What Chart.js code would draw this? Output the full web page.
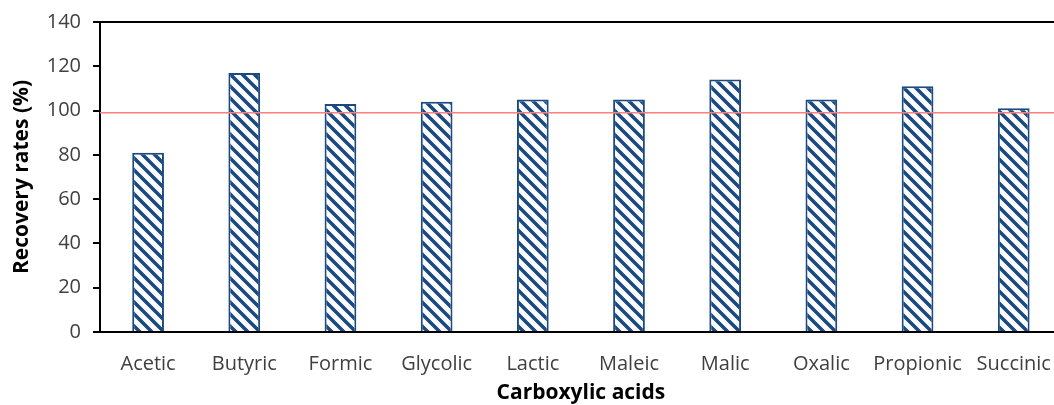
<!DOCTYPE html>
<html>
<head>
<meta charset="utf-8">
<script src="https://cdn.jsdelivr.net/npm/chart.js@4"></script>
<style>
  html, body { margin: 0; padding: 0; background: #fff; overflow: hidden; }
  #wrap { width: 1071px; height: 405px; }
</style>
</head>
<body>
<div id="wrap"><canvas id="chart"></canvas></div>
<script>
const categories = ['Acetic', 'Butyric', 'Formic', 'Glycolic', 'Lactic', 'Maleic', 'Malic', 'Oxalic', 'Propionic', 'Succinic'];
const recoveryRates = [81, 117, 103, 104, 105, 105, 114, 105, 111, 101];
const yTicks = [0, 20, 40, 60, 80, 100, 120, 140];
const referenceLevel = 99;

const barBlue = '#1b4a80';
const font = 'Open Sans';

// diagonal hatch fill like the Excel pattern
function makeHatch() {
    const size = 12;
    const c = document.createElement('canvas');
    c.width = size; c.height = size;
    const g = c.getContext('2d');
    g.fillStyle = '#fff';
    g.fillRect(0, 0, size, size);
    g.strokeStyle = barBlue;
    g.lineWidth = 3.6;
    g.beginPath();
    for (let k = -1; k <= 1; k++) {
        g.moveTo(k * size - 2, -2);
        g.lineTo(k * size + size + 2, size + 2);
    }
    g.stroke();
    return g.createPattern(c, 'repeat');
}

const extraLines = {
    id: 'extraLines',
    afterDatasetsDraw(chart) {
        const { ctx, chartArea, scales } = chart;
        const y = scales.y.getPixelForValue(referenceLevel);
        ctx.save();
        ctx.strokeStyle = '#ff7f7f';
        ctx.lineWidth = 1.5;
        ctx.beginPath();
        ctx.moveTo(chartArea.left, y);
        ctx.lineTo(chartArea.right, y);
        ctx.stroke();
        // top frame line
        ctx.strokeStyle = '#000';
        ctx.lineWidth = 2;
        ctx.beginPath();
        ctx.moveTo(chartArea.left, chartArea.top);
        ctx.lineTo(chartArea.right, chartArea.top);
        ctx.stroke();
        ctx.restore();
    }
};

new Chart(document.getElementById('chart'), {
    type: 'bar',
    data: {
        labels: categories,
        datasets: [{
            data: recoveryRates,
            backgroundColor: makeHatch(),
            borderColor: barBlue,
            borderWidth: 2,
            categoryPercentage: 1,
            barPercentage: 0.33
        }]
    },
    options: {
        responsive: true,
        maintainAspectRatio: false,
        animation: false,
        layout: { padding: { top: 22, right: 2, left: 0, bottom: 0 } },
        plugins: { legend: { display: false }, tooltip: { enabled: false } },
        scales: {
            x: {
                grid: { display: true, drawOnChartArea: false, drawTicks: false, color: '#000', lineWidth: 2 },
                border: { display: true, color: '#000', width: 2 },
                ticks: { color: '#404040', padding: 20, font: { family: font, size: 20 }, maxRotation: 0, autoSkip: false },
                title: { display: true, text: 'Carboxylic acids', color: '#000', padding: { top: 0, bottom: 1 }, font: { family: font, size: 21, weight: 'bold', lineHeight: 1 } },
                afterFit(scale) { scale.height = 73; }
            },
            y: {
                min: 0,
                max: 140,
                afterBuildTicks(scale) { scale.ticks = yTicks.map(v => ({ value: v })); },
                grid: { drawOnChartArea: false, drawTicks: true, tickLength: 7, color: '#000', lineWidth: 2 },
                border: { display: true, color: '#000', width: 2 },
                ticks: { color: '#404040', padding: 12, font: { family: font, size: 20, lineHeight: 1 } },
                title: { display: true, text: 'Recovery rates (%)', color: '#000', padding: { top: 12, bottom: 0 }, font: { family: font, size: 21, weight: 'bold', lineHeight: 1 } },
                afterFit(scale) { scale.width = 100; }
            }
        }
    },
    plugins: [extraLines]
});
</script>
</body>
</html>
